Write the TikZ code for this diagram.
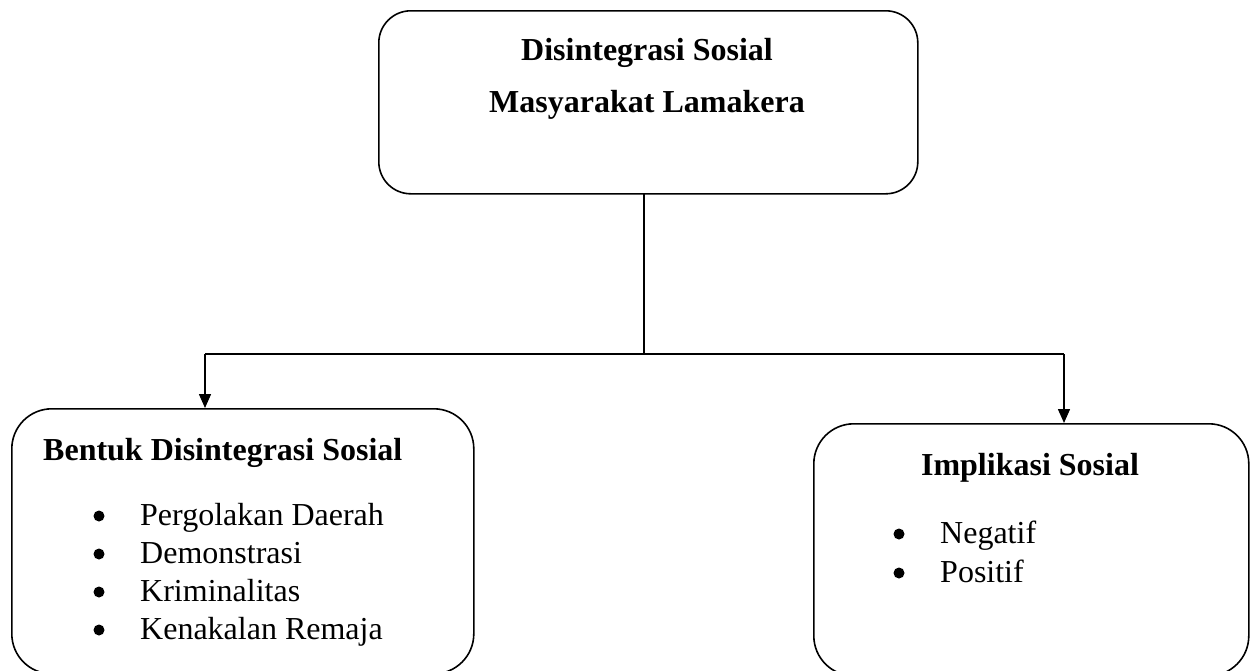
\documentclass[tikz,border=0pt]{standalone}
\usepackage{fontspec}
\setmainfont{Liberation Serif}
\usetikzlibrary{arrows.meta,calc}
\tikzset{
  box/.style={draw=black, line width=1.6pt, rounded corners=#1, inner sep=0pt, anchor=north west},
  box/.default=38pt,
  conn/.style={draw=black, line width=1.5pt},
  arr/.style={conn, -{Triangle[width=12pt,length=14pt]}},
  ttl/.style={font=\fontsize{32}{38}\selectfont\bfseries, inner sep=0pt, anchor=base},
  item/.style={font=\fontsize{32}{38}\selectfont, inner sep=0pt, anchor=base west},
  dot/.style={circle, fill=black, inner sep=0pt, minimum size=11pt}
}
\begin{document}
\begin{tikzpicture}[x=1pt,y=-1pt]
\useasboundingbox (0,0) rectangle (1256,670);
\clip (0,0) rectangle (1256,670);
% boxes
\node[box=32pt, minimum width=539pt, minimum height=183pt] (top) at (378,10) {};
\node[box=40pt, minimum width=462pt, minimum height=265pt] (left) at (11,408) {};
\node[box=40pt, minimum width=435pt, minimum height=252pt] (right) at (813,423) {};
% texts
\node[ttl] (t1) at (647,60) {Disintegrasi Sosial};
\node[ttl] (t2) at (647,112) {Masyarakat Lamakera};
\node[ttl, anchor=base west] (lt) at (43,460) {Bentuk Disintegrasi Sosial};
\node[ttl] (rt) at (1030,475) {Implikasi Sosial};
\node[item] (l1) at (140,525) {Pergolakan Daerah};
\node[item] (l2) at (140,563) {Demonstrasi};
\node[item] (l3) at (140,601) {Kriminalitas};
\node[item] (l4) at (140,639) {Kenakalan Remaja};
\node[dot] (b1) at (99,516) {};
\node[dot] (b2) at (99,554) {};
\node[dot] (b3) at (99,592) {};
\node[dot] (b4) at (99,630) {};
\node[item] (r1) at (940,543) {Negatif};
\node[item] (r2) at (940,582) {Positif};
\node[dot] (c1) at (899,534) {};
\node[dot] (c2) at (899,573) {};
% connectors
\coordinate (ts) at (644,193);
\coordinate (hm) at (644,354);
\coordinate (hl) at (205,354);
\coordinate (hr) at (1064,354);
\draw[conn] (ts) -- (hm);
\draw[conn] (hl) -- (hr);
\draw[arr] (hl) -- (hl |- left.north);
\draw[arr] (hr) -- (hr |- right.north);
\end{tikzpicture}
\end{document}
